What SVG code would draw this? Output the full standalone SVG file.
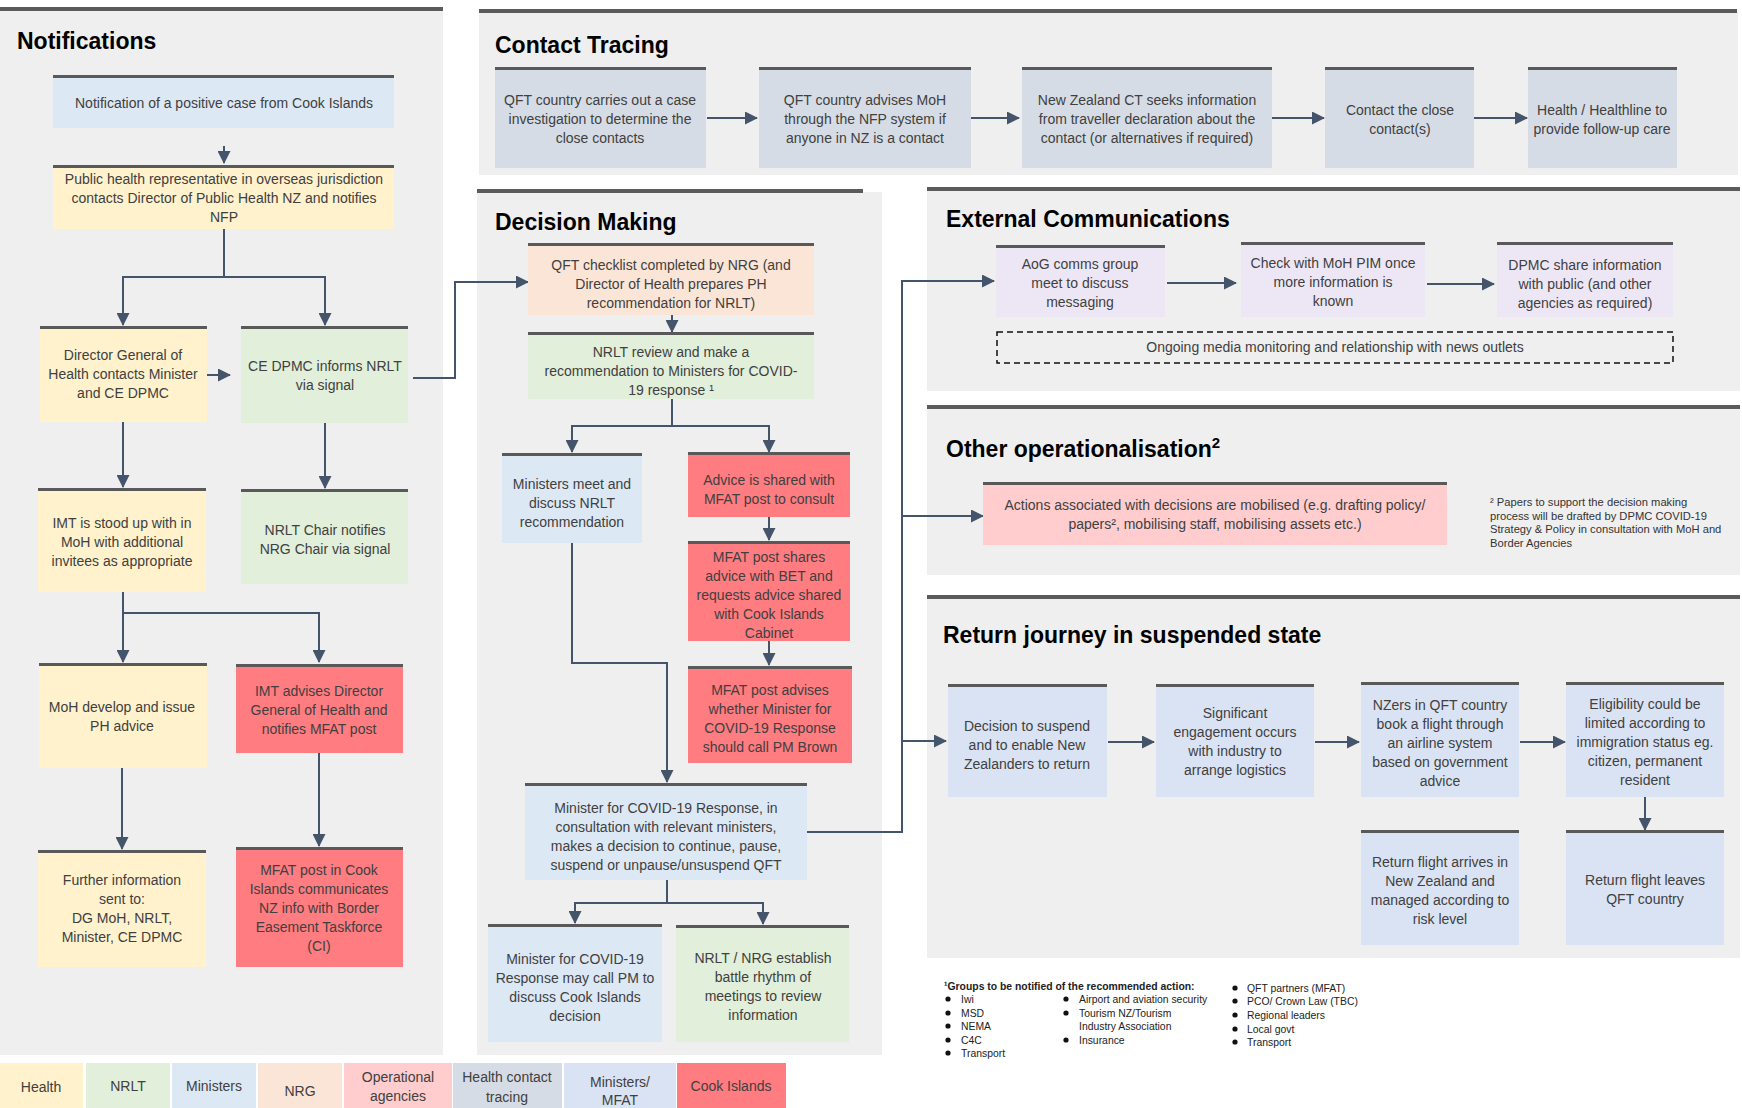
<svg xmlns="http://www.w3.org/2000/svg" width="1742" height="1108" viewBox="0 0 1742 1108">
<defs>
<style>
.panel{fill:#efefef}
.pbar{fill:#5b5b5b}
.bar{fill:#595959}
.health{fill:#fff2cc}
.nrlt{fill:#e2efda}
.min{fill:#dde8f5}
.nrg{fill:#fbe5d6}
.ops{fill:#ffcdcd}
.ct{fill:#d6dce5}
.mfat{fill:#dae3f3}
.ci{fill:#ff7c80}
.comm{fill:#ede7f5}
.t{font-family:"Liberation Sans",Arial,sans-serif;font-size:14px;fill:#404040;text-anchor:middle}
.h{font-family:"Liberation Sans",Arial,sans-serif;font-size:23px;font-weight:bold;fill:#000}
.fn{font-family:"Liberation Sans",Arial,sans-serif;font-size:11.2px;fill:#333}
.fs{font-family:"Liberation Sans",Arial,sans-serif;font-size:10.4px;fill:#222}
.c{fill:none;stroke:#44546a;stroke-width:2}
.a{marker-end:url(#ah)}
</style>
<marker id="ah" viewBox="0 0 13 13" refX="12" refY="6.5" markerWidth="13" markerHeight="13" markerUnits="userSpaceOnUse" orient="auto"><path d="M0,0 L13,6.5 L0,13 z" fill="#44546a"/></marker>
</defs>
<rect width="1742" height="1108" fill="#fff"/>

<!-- Panels -->
<g id="panels">
<rect class="panel" x="0" y="10" width="443" height="1045"/>
<rect class="pbar" x="0" y="7" width="443" height="4"/>
<text class="h" x="17" y="49">Notifications</text>

<rect class="panel" x="479" y="12" width="1259" height="163"/>
<rect class="pbar" x="479" y="9" width="1258" height="4"/>
<text class="h" x="495" y="53">Contact Tracing</text>

<rect class="panel" x="477" y="192" width="405" height="863"/>
<rect class="pbar" x="477" y="189" width="386" height="4"/>
<text class="h" x="495" y="230">Decision Making</text>

<rect class="panel" x="927" y="190" width="813" height="201"/>
<rect class="pbar" x="927" y="187" width="813" height="4"/>
<text class="h" x="946" y="227">External Communications</text>

<rect class="panel" x="927" y="408" width="813" height="167"/>
<rect class="pbar" x="927" y="405" width="813" height="4"/>
<text class="h" x="946" y="457">Other operationalisation<tspan font-size="15" dy="-9">2</tspan></text>

<rect class="panel" x="927" y="598" width="813" height="360"/>
<rect class="pbar" x="927" y="595" width="813" height="4"/>
<text class="h" x="943" y="643">Return journey in suspended state</text>
</g>

<!-- Connectors -->
<g id="connectors">
<path class="c a" d="M224,146 V163"/>
<path class="c a" d="M224,229 V277 H123 V325"/>
<path class="c a" d="M224,277 H325 V325"/>
<path class="c a" d="M207,375 H230"/>
<path class="c a" d="M413,378 H455 V282 H528"/>
<path class="c a" d="M123,422 V487"/>
<path class="c a" d="M325,423 V488"/>
<path class="c a" d="M123,592 V662"/>
<path class="c a" d="M123,613 H319 V662"/>
<path class="c a" d="M122,768 V849"/>
<path class="c a" d="M319,753 V846"/>

<path class="c a" d="M672,300 V332"/>
<path class="c a" d="M672,399 V426 H572 V452"/>
<path class="c a" d="M672,426 H769 V452"/>
<path class="c a" d="M769,517 V540"/>
<path class="c a" d="M769,641 V665"/>
<path class="c a" d="M572,543 V663 H667 V782"/>
<path class="c a" d="M667,880 V903 H575 V923"/>
<path class="c a" d="M667,903 H763 V924"/>
<path class="c a" d="M807,832 H902 V281 H994"/>
<path class="c a" d="M902,516 H983"/>
<path class="c a" d="M902,741 H946"/>

<path class="c a" d="M707,118 H757"/>
<path class="c a" d="M971,118 H1019"/>
<path class="c a" d="M1272,118 H1324"/>
<path class="c a" d="M1474,118 H1527"/>

<path class="c a" d="M1167,283 H1236"/>
<path class="c a" d="M1427,284 H1494"/>

<path class="c a" d="M1108,742 H1154"/>
<path class="c a" d="M1315,742 H1359"/>
<path class="c a" d="M1520,742 H1565"/>
<path class="c a" d="M1645,797 V830"/>
</g>

<!-- Notifications nodes -->
<g id="n-notif">
<rect class="min" x="53" y="76" width="341" height="52"/><rect class="bar" x="53" y="75" width="341" height="3"/>
<text class="t" x="224" y="108">Notification of a positive case from Cook Islands</text>
</g>
<g id="n-ph">
<rect class="health" x="53" y="166" width="341" height="63"/><rect class="bar" x="53" y="165" width="341" height="3"/>
<text class="t"><tspan x="224" y="184">Public health representative in overseas jurisdiction</tspan><tspan x="224" y="203">contacts Director of Public Health NZ and notifies</tspan><tspan x="224" y="222">NFP</tspan></text>
</g>
<g id="n-dg">
<rect class="health" x="40" y="327" width="167" height="95"/><rect class="bar" x="40" y="326" width="167" height="3"/>
<text class="t"><tspan x="123" y="360">Director General of</tspan><tspan x="123" y="379">Health contacts Minister</tspan><tspan x="123" y="398">and CE DPMC</tspan></text>
</g>
<g id="n-ce">
<rect class="nrlt" x="241" y="327" width="167" height="96"/><rect class="bar" x="241" y="326" width="167" height="3"/>
<text class="t"><tspan x="325" y="371">CE DPMC informs NRLT</tspan><tspan x="325" y="390">via signal</tspan></text>
</g>
<g id="n-imt">
<rect class="health" x="38" y="489" width="168" height="103"/><rect class="bar" x="38" y="488" width="168" height="3"/>
<text class="t"><tspan x="122" y="528">IMT is stood up with in</tspan><tspan x="122" y="547">MoH with additional</tspan><tspan x="122" y="566">invitees as appropriate</tspan></text>
</g>
<g id="n-nrltchair">
<rect class="nrlt" x="241" y="490" width="167" height="94"/><rect class="bar" x="241" y="489" width="167" height="3"/>
<text class="t"><tspan x="325" y="535">NRLT Chair notifies</tspan><tspan x="325" y="554">NRG Chair via signal</tspan></text>
</g>
<g id="n-moh">
<rect class="health" x="39" y="664" width="168" height="104"/><rect class="bar" x="39" y="663" width="168" height="3"/>
<text class="t"><tspan x="122" y="712">MoH develop and issue</tspan><tspan x="122" y="731">PH advice</tspan></text>
</g>
<g id="n-imtadv">
<rect class="ci" x="236" y="665" width="167" height="88"/><rect class="bar" x="236" y="664" width="167" height="3"/>
<text class="t"><tspan x="319" y="696">IMT advises Director</tspan><tspan x="319" y="715">General of Health and</tspan><tspan x="319" y="734">notifies MFAT post</tspan></text>
</g>
<g id="n-further">
<rect class="health" x="38" y="851" width="168" height="116"/><rect class="bar" x="38" y="850" width="168" height="3"/>
<text class="t"><tspan x="122" y="885">Further information</tspan><tspan x="122" y="904">sent to:</tspan><tspan x="122" y="923">DG MoH, NRLT,</tspan><tspan x="122" y="942">Minister, CE DPMC</tspan></text>
</g>
<g id="n-mfatci">
<rect class="ci" x="236" y="848" width="167" height="119"/><rect class="bar" x="236" y="847" width="167" height="3"/>
<text class="t"><tspan x="319" y="875">MFAT post in Cook</tspan><tspan x="319" y="894">Islands communicates</tspan><tspan x="319" y="913">NZ info with Border</tspan><tspan x="319" y="932">Easement Taskforce</tspan><tspan x="319" y="951">(CI)</tspan></text>
</g>

<!-- Contact tracing nodes -->
<g id="ct1">
<rect class="ct" x="495" y="68" width="211" height="100"/><rect class="bar" x="495" y="67" width="211" height="3"/>
<text class="t"><tspan x="600" y="105">QFT country carries out a case</tspan><tspan x="600" y="124">investigation to determine the</tspan><tspan x="600" y="143">close contacts</tspan></text>
</g>
<g id="ct2">
<rect class="ct" x="759" y="68" width="212" height="100"/><rect class="bar" x="759" y="67" width="212" height="3"/>
<text class="t"><tspan x="865" y="105">QFT country advises MoH</tspan><tspan x="865" y="124">through the NFP system if</tspan><tspan x="865" y="143">anyone in NZ is a contact</tspan></text>
</g>
<g id="ct3">
<rect class="ct" x="1022" y="68" width="250" height="100"/><rect class="bar" x="1022" y="67" width="250" height="3"/>
<text class="t"><tspan x="1147" y="105">New Zealand CT seeks information</tspan><tspan x="1147" y="124">from traveller declaration about the</tspan><tspan x="1147" y="143">contact (or alternatives if required)</tspan></text>
</g>
<g id="ct4">
<rect class="ct" x="1325" y="68" width="149" height="100"/><rect class="bar" x="1325" y="67" width="149" height="3"/>
<text class="t"><tspan x="1400" y="115">Contact the close</tspan><tspan x="1400" y="134">contact(s)</tspan></text>
</g>
<g id="ct5">
<rect class="ct" x="1528" y="68" width="149" height="100"/><rect class="bar" x="1528" y="67" width="149" height="3"/>
<text class="t"><tspan x="1602" y="115">Health / Healthline to</tspan><tspan x="1602" y="134">provide follow-up care</tspan></text>
</g>

<!-- Decision making nodes -->
<g id="d-qft">
<rect class="nrg" x="528" y="244" width="286" height="71"/><rect class="bar" x="528" y="243" width="286" height="3"/>
<text class="t"><tspan x="671" y="270">QFT checklist completed by NRG (and</tspan><tspan x="671" y="289">Director of Health prepares PH</tspan><tspan x="671" y="308">recommendation for NRLT)</tspan></text>
</g>
<g id="d-nrlt">
<rect class="nrlt" x="528" y="333" width="286" height="66"/><rect class="bar" x="528" y="332" width="286" height="3"/>
<text class="t"><tspan x="671" y="357">NRLT review and make a</tspan><tspan x="671" y="376">recommendation to Ministers for COVID-</tspan><tspan x="671" y="395">19 response ¹</tspan></text>
</g>
<g id="d-min">
<rect class="min" x="502" y="454" width="140" height="89"/><rect class="bar" x="502" y="453" width="140" height="3"/>
<text class="t"><tspan x="572" y="489">Ministers meet and</tspan><tspan x="572" y="508">discuss NRLT</tspan><tspan x="572" y="527">recommendation</tspan></text>
</g>
<g id="d-adv">
<rect class="ci" x="688" y="453" width="162" height="64"/><rect class="bar" x="688" y="452" width="162" height="3"/>
<text class="t"><tspan x="769" y="485">Advice is shared with</tspan><tspan x="769" y="504">MFAT post to consult</tspan></text>
</g>
<g id="d-mfat1">
<rect class="ci" x="688" y="542" width="162" height="99"/><rect class="bar" x="688" y="541" width="162" height="3"/>
<text class="t"><tspan x="769" y="562">MFAT post shares</tspan><tspan x="769" y="581">advice with BET and</tspan><tspan x="769" y="600">requests advice shared</tspan><tspan x="769" y="619">with Cook Islands</tspan><tspan x="769" y="638">Cabinet</tspan></text>
</g>
<g id="d-mfat2">
<rect class="ci" x="688" y="667" width="164" height="96"/><rect class="bar" x="688" y="666" width="164" height="3"/>
<text class="t"><tspan x="770" y="695">MFAT post advises</tspan><tspan x="770" y="714">whether Minister for</tspan><tspan x="770" y="733">COVID-19 Response</tspan><tspan x="770" y="752">should call PM Brown</tspan></text>
</g>
<g id="d-decide">
<rect class="min" x="525" y="784" width="282" height="96"/><rect class="bar" x="525" y="783" width="282" height="3"/>
<text class="t"><tspan x="666" y="813">Minister for COVID-19 Response, in</tspan><tspan x="666" y="832">consultation with relevant ministers,</tspan><tspan x="666" y="851">makes a decision to continue, pause,</tspan><tspan x="666" y="870">suspend or unpause/unsuspend QFT</tspan></text>
</g>
<g id="d-call">
<rect class="min" x="488" y="925" width="174" height="117"/><rect class="bar" x="488" y="924" width="174" height="3"/>
<text class="t"><tspan x="575" y="964">Minister for COVID-19</tspan><tspan x="575" y="983">Response may call PM to</tspan><tspan x="575" y="1002">discuss Cook Islands</tspan><tspan x="575" y="1021">decision</tspan></text>
</g>
<g id="d-rhythm">
<rect class="nrlt" x="676" y="926" width="173" height="116"/><rect class="bar" x="676" y="925" width="173" height="3"/>
<text class="t"><tspan x="763" y="963">NRLT / NRG establish</tspan><tspan x="763" y="982">battle rhythm of</tspan><tspan x="763" y="1001">meetings to review</tspan><tspan x="763" y="1020">information</tspan></text>
</g>

<!-- External communications -->
<g id="e-aog">
<rect class="comm" x="996" y="246" width="169" height="71"/><rect class="bar" x="996" y="245" width="169" height="3"/>
<text class="t"><tspan x="1080" y="269">AoG comms group</tspan><tspan x="1080" y="288">meet to discuss</tspan><tspan x="1080" y="307">messaging</tspan></text>
</g>
<g id="e-check">
<rect class="comm" x="1241" y="243" width="184" height="74"/><rect class="bar" x="1241" y="242" width="184" height="3"/>
<text class="t"><tspan x="1333" y="268">Check with MoH PIM once</tspan><tspan x="1333" y="287">more information is</tspan><tspan x="1333" y="306">known</tspan></text>
</g>
<g id="e-dpmc">
<rect class="comm" x="1497" y="243" width="176" height="74"/><rect class="bar" x="1497" y="242" width="176" height="3"/>
<text class="t"><tspan x="1585" y="270">DPMC share information</tspan><tspan x="1585" y="289">with public (and other</tspan><tspan x="1585" y="308">agencies as required)</tspan></text>
</g>
<g id="e-media">
<rect x="997" y="332" width="676" height="31" fill="none" stroke="#111" stroke-width="1.5" stroke-dasharray="6,4"/>
<text class="t" x="1335" y="352">Ongoing media monitoring and relationship with news outlets</text>
</g>

<!-- Other operationalisation -->
<g id="o-actions">
<rect class="ops" x="983" y="483" width="464" height="62"/><rect class="bar" x="983" y="482" width="464" height="3"/>
<text class="t"><tspan x="1215" y="510">Actions associated with decisions are mobilised (e.g. drafting policy/</tspan><tspan x="1215" y="529">papers², mobilising staff, mobilising assets etc.)</tspan></text>
</g>
<g id="o-note">
<text class="fn"><tspan x="1490" y="506">² Papers to support the decision making</tspan><tspan x="1490" y="519.5">process will be drafted by DPMC COVID-19</tspan><tspan x="1490" y="533">Strategy &amp; Policy in consultation with MoH and</tspan><tspan x="1490" y="546.5">Border Agencies</tspan></text>
</g>

<!-- Return journey -->
<g id="r1">
<rect class="mfat" x="948" y="685" width="159" height="112"/><rect class="bar" x="948" y="684" width="159" height="3"/>
<text class="t"><tspan x="1027" y="731">Decision to suspend</tspan><tspan x="1027" y="750">and to enable New</tspan><tspan x="1027" y="769">Zealanders to return</tspan></text>
</g>
<g id="r2">
<rect class="mfat" x="1156" y="685" width="158" height="112"/><rect class="bar" x="1156" y="684" width="158" height="3"/>
<text class="t"><tspan x="1235" y="718">Significant</tspan><tspan x="1235" y="737">engagement occurs</tspan><tspan x="1235" y="756">with industry to</tspan><tspan x="1235" y="775">arrange logistics</tspan></text>
</g>
<g id="r3">
<rect class="mfat" x="1361" y="683" width="158" height="114"/><rect class="bar" x="1361" y="682" width="158" height="3"/>
<text class="t"><tspan x="1440" y="710">NZers in QFT country</tspan><tspan x="1440" y="729">book a flight through</tspan><tspan x="1440" y="748">an airline system</tspan><tspan x="1440" y="767">based on government</tspan><tspan x="1440" y="786">advice</tspan></text>
</g>
<g id="r4">
<rect class="mfat" x="1566" y="683" width="158" height="114"/><rect class="bar" x="1566" y="682" width="158" height="3"/>
<text class="t"><tspan x="1645" y="709">Eligibility could be</tspan><tspan x="1645" y="728">limited according to</tspan><tspan x="1645" y="747">immigration status eg.</tspan><tspan x="1645" y="766">citizen, permanent</tspan><tspan x="1645" y="785">resident</tspan></text>
</g>
<g id="r5">
<rect class="mfat" x="1566" y="831" width="158" height="114"/><rect class="bar" x="1566" y="830" width="158" height="3"/>
<text class="t"><tspan x="1645" y="885">Return flight leaves</tspan><tspan x="1645" y="904">QFT country</tspan></text>
</g>
<g id="r6">
<rect class="mfat" x="1361" y="831" width="158" height="114"/><rect class="bar" x="1361" y="830" width="158" height="3"/>
<text class="t"><tspan x="1440" y="867">Return flight arrives in</tspan><tspan x="1440" y="886">New Zealand and</tspan><tspan x="1440" y="905">managed according to</tspan><tspan x="1440" y="924">risk level</tspan></text>
</g>

<!-- Footnote 1 -->
<g id="footnote1">
<text class="fs" x="944" y="990" font-weight="bold" font-size="10">¹Groups to be notified of the recommended action:</text>
<g fill="#111">
<circle cx="948" cy="999" r="2.6"/><circle cx="948" cy="1013" r="2.6"/><circle cx="948" cy="1026" r="2.6"/><circle cx="948" cy="1040" r="2.6"/><circle cx="948" cy="1053" r="2.6"/>
<circle cx="1066" cy="999" r="2.6"/><circle cx="1066" cy="1013" r="2.6"/><circle cx="1066" cy="1040" r="2.6"/>
<circle cx="1235" cy="988" r="2.6"/><circle cx="1235" cy="1001" r="2.6"/><circle cx="1235" cy="1015" r="2.6"/><circle cx="1235" cy="1029" r="2.6"/><circle cx="1235" cy="1042" r="2.6"/>
</g>
<text class="fs"><tspan x="961" y="1002.5">Iwi</tspan><tspan x="961" y="1016.5">MSD</tspan><tspan x="961" y="1029.5">NEMA</tspan><tspan x="961" y="1043.5">C4C</tspan><tspan x="961" y="1056.5">Transport</tspan></text>
<text class="fs"><tspan x="1079" y="1002.5">Airport and aviation security</tspan><tspan x="1079" y="1016.5">Tourism NZ/Tourism</tspan><tspan x="1079" y="1029.5">Industry Association</tspan><tspan x="1079" y="1043.5">Insurance</tspan></text>
<text class="fs"><tspan x="1247" y="991.5">QFT partners (MFAT)</tspan><tspan x="1247" y="1004.5">PCO/ Crown Law (TBC)</tspan><tspan x="1247" y="1018.5">Regional leaders</tspan><tspan x="1247" y="1032.5">Local govt</tspan><tspan x="1247" y="1045.5">Transport</tspan></text>
</g>

<!-- Legend -->
<g id="legend">
<rect class="health" x="0" y="1063" width="83" height="45"/>
<text class="t" x="41" y="1092">Health</text>
<rect class="nrlt" x="86" y="1063" width="84" height="45"/>
<text class="t" x="128" y="1091">NRLT</text>
<rect class="min" x="172" y="1063" width="84" height="45"/>
<text class="t" x="214" y="1091">Ministers</text>
<rect class="nrg" x="258" y="1063" width="84" height="45"/>
<text class="t" x="300" y="1096">NRG</text>
<rect class="ops" x="344" y="1063" width="108" height="45"/>
<text class="t"><tspan x="398" y="1082">Operational</tspan><tspan x="398" y="1101">agencies</tspan></text>
<rect class="ct" x="453" y="1063" width="109" height="45"/>
<text class="t"><tspan x="507" y="1082">Health contact</tspan><tspan x="507" y="1102">tracing</tspan></text>
<rect class="mfat" x="564" y="1063" width="112" height="45"/>
<text class="t"><tspan x="620" y="1087">Ministers/</tspan><tspan x="620" y="1105">MFAT</tspan></text>
<rect class="ci" x="677" y="1063" width="109" height="45"/>
<text class="t" x="731" y="1091">Cook Islands</text>
</g>
</svg>
